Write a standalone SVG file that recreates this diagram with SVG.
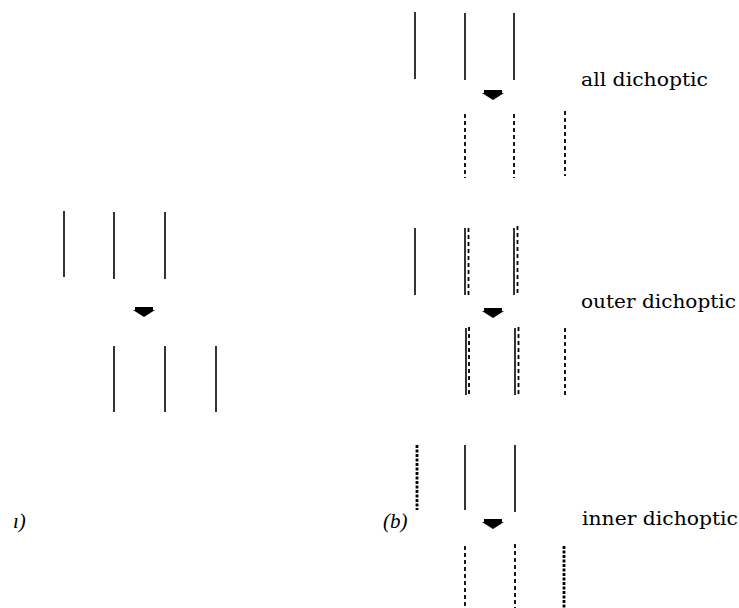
<svg xmlns="http://www.w3.org/2000/svg" width="739" height="608" viewBox="0 0 739 608">
<style>
.s{stroke:#000;stroke-width:1.6;fill:none}
.d{stroke:#000;stroke-width:1.8;fill:none;stroke-dasharray:4 3}
.t{stroke:#000;stroke-width:2.8;fill:none;stroke-dasharray:3 1.5}
.lbl{font-family:'DejaVu Serif','Liberation Serif',serif;font-size:19px;fill:#000}
.it{font-family:'Liberation Serif','DejaVu Serif',serif;font-size:21px;font-style:italic;fill:#000}
</style>
<defs>
<path id="arr" d="M-9,0 H9 V3 H11 L0,10 L-11,3 H-9 Z" fill="#000"/>
</defs>
<rect width="739" height="608" fill="#fff"/>

<g id="panel-a">
  <g id="a-top">
    <line class="s" x1="64" y1="211" x2="64" y2="277"/>
    <line class="s" x1="114" y1="212" x2="114" y2="279"/>
    <line class="s" x1="165" y1="212" x2="165" y2="279"/>
  </g>
  <g id="a-bottom">
    <line class="s" x1="114" y1="346" x2="114" y2="412"/>
    <line class="s" x1="165" y1="346" x2="165" y2="412"/>
    <line class="s" x1="216" y1="346" x2="216" y2="412"/>
  </g>
  <text class="it" x="13" y="528">ı)</text>
</g>

<g id="row-all">
  <g id="all-top">
    <line class="s" x1="415" y1="12" x2="415" y2="79"/>
    <line class="s" x1="465" y1="13" x2="465" y2="80"/>
    <line class="s" x1="514" y1="13" x2="514" y2="80"/>
  </g>
  <g id="all-bottom">
    <line class="d" x1="465" y1="114" x2="465" y2="178"/>
    <line class="d" x1="514" y1="114" x2="514" y2="178"/>
    <line class="d" x1="565" y1="111" x2="565" y2="176"/>
  </g>
  <text class="lbl" x="581" y="86" textLength="127" lengthAdjust="spacingAndGlyphs">all dichoptic</text>
</g>

<g id="row-outer">
  <g id="outer-top">
    <line class="s" x1="415" y1="228" x2="415" y2="295"/>
    <line class="s" x1="465" y1="228" x2="465" y2="295"/>
    <line class="d" x1="468.5" y1="228" x2="468.5" y2="295"/>
    <line class="s" x1="514" y1="228" x2="514" y2="295"/>
    <line class="d" x1="517.5" y1="226" x2="517.5" y2="295"/>
  </g>
  <g id="outer-bottom">
    <line class="s" x1="466" y1="328" x2="466" y2="395"/>
    <line class="d" x1="469" y1="327" x2="469" y2="395"/>
    <line class="s" x1="515" y1="328" x2="515" y2="395"/>
    <line class="d" x1="518.5" y1="327" x2="518.5" y2="395"/>
    <line class="d" x1="565" y1="328" x2="565" y2="395"/>
  </g>
  <text class="lbl" x="581" y="308" textLength="155" lengthAdjust="spacingAndGlyphs">outer dichoptic</text>
</g>

<g id="row-inner">
  <g id="inner-top">
    <line class="t" x1="417" y1="445" x2="417" y2="510"/>
    <line class="s" x1="465" y1="445" x2="465" y2="510"/>
    <line class="s" x1="515" y1="445" x2="515" y2="512"/>
  </g>
  <g id="inner-bottom">
    <line class="d" x1="465" y1="546" x2="465" y2="608"/>
    <line class="d" x1="515" y1="544" x2="515" y2="608"/>
    <line class="t" x1="564" y1="546" x2="564" y2="608"/>
  </g>
  <text class="lbl" x="582" y="525" textLength="156" lengthAdjust="spacingAndGlyphs">inner dichoptic</text>
</g>

<text class="it" x="383" y="528">(b)</text>

<g id="connectors">
  <use href="#arr" x="144" y="307"/>
  <use href="#arr" x="493" y="90"/>
  <use href="#arr" x="493" y="308"/>
  <use href="#arr" x="493" y="519"/>
</g>
</svg>
